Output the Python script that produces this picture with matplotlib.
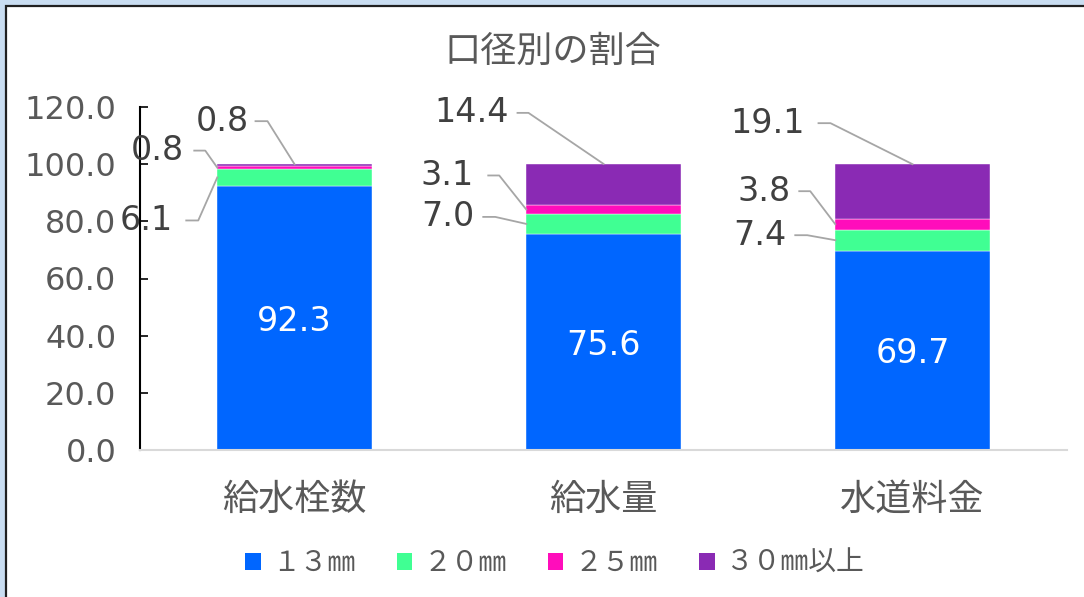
import matplotlib
matplotlib.use('Agg')
import matplotlib.pyplot as plt
from matplotlib.patches import Patch, Rectangle
from matplotlib.lines import Line2D
from matplotlib.transforms import IdentityTransform
import numpy as np

plt.rcParams['font.family'] = ['Noto Sans CJK JP', 'DejaVu Sans']

# データ
categories = ['給水栓数', '給水量', '水道料金']
series_names = ['１３㎜', '２０㎜', '２５㎜', '３０㎜以上']
values = [
    [92.3, 75.6, 69.7],   # 13mm
    [6.1, 7.0, 7.4],      # 20mm
    [0.8, 3.1, 3.8],      # 25mm
    [0.8, 14.4, 19.1],    # 30mm以上
]
colors = ['#0066FF', '#40FF93', '#FF0DBB', '#8A2AB4']
yticks = [0, 20, 40, 60, 80, 100, 120]

# ラベルの位置 (ピクセル): (文字右端, 線の始点, 折れ点, 線の高さ)
label_pos = {
    (1, 0): (-44, -31, -19, -43), (2, 0): (-33, -23, -12, 17), (3, 0): (-46, -39, -27, 43),
    (1, 1): (-52, -43, -31, 7),   (2, 1): (-53, -38, -27, 34), (3, 1): (-95, -86, -75, 51),
    (1, 2): (-49, -40, -28, 5),   (2, 2): (-45, -36, -25, 33), (3, 2): (-108, -94, -82, 41),
}

txt_gray = '#595959'
lbl_gray = '#404040'
num_font = ['DejaVu Sans']

fig = plt.figure(figsize=(10.84, 5.97), dpi=100)
fig.patch.set_facecolor('#C9DDF1')
fig.patches.append(Rectangle((6 / 1084, -0.05), 1.1, 1 - 6 / 597 + 0.05,
                             transform=fig.transFigure, facecolor='white',
                             edgecolor='#202020', lw=1.6, zorder=-5))

ax = fig.add_axes([140 / 1084, 1 - 450 / 597, 927 / 1084, 343 / 597])
ax.set_facecolor('none')

x = np.arange(len(categories))
bottom = np.zeros(len(categories))
for i, (name, vals) in enumerate(zip(series_names, values)):
    vals = np.array(vals)
    ax.bar(x, vals, 0.5, bottom=bottom, color=colors[i], label=name,
           edgecolor='white', linewidth=0.3, zorder=2)
    bottom = bottom + vals

ax.set_xlim(-0.5, 2.5)
ax.set_ylim(0, 120)
ax.set_yticks(yticks)
ax.set_yticklabels([f'{v:.1f}' for v in yticks], fontsize=23, color=txt_gray,
                   family=num_font)
ax.tick_params(axis='y', direction='in', length=6, width=1.2, color='black', pad=17)
ax.set_xticks(x)
ax.set_xticklabels(categories, fontsize=26, color=txt_gray)
ax.tick_params(axis='x', length=0, pad=23)
for s in ['top', 'right']:
    ax.spines[s].set_visible(False)
ax.spines['left'].set_color('black')
ax.spines['left'].set_linewidth(1.5)
ax.spines['bottom'].set_color('#D9D9D9')
ax.spines['bottom'].set_linewidth(1.5)

# 13mm のラベル (中央)
for j in range(len(categories)):
    ax.text(x[j], values[0][j] / 2, f'{values[0][j]:.1f}', color='white',
            fontsize=24, ha='center', va='center_baseline', family=num_font, zorder=3)

# その他のラベル (引き出し線)
fig.canvas.draw()
cum = np.cumsum(np.array(values), axis=0)
n = len(series_names)
for i in range(1, n):
    for j in range(len(categories)):
        v = values[i][j]
        if i == n - 1:
            px, py = x[j], cum[i][j]
        else:
            px, py = x[j] - 0.25, cum[i][j] - v / 2
        dx_txt, dx_start, dx_elbow, dy = label_pos[(i, j)]
        X, Y = ax.transData.transform((px, py))
        line = Line2D([X + dx_start, X + dx_elbow, X], [Y + dy, Y + dy, Y],
                      transform=IdentityTransform(), color='#A6A6A6', lw=1.3, zorder=4)
        fig.add_artist(line)
        fig.text(X + dx_txt, Y + dy, f'{v:.1f}', transform=IdentityTransform(),
                 fontsize=24, color=lbl_gray, ha='right', va='center', family=num_font)

fig.text(553 / 1084, 1 - 52 / 597, '口径別の割合', fontsize=26, color=txt_gray,
         ha='center', va='center')

handles = [Patch(facecolor=c, edgecolor='none') for c in colors]
fig.legend(handles, series_names, loc='center', ncol=4,
           bbox_to_anchor=(555 / 1084, 1 - 563 / 597), frameon=False,
           fontsize=20, labelcolor=txt_gray, handlelength=0.55, handleheight=0.55,
           handletextpad=0.4, columnspacing=1.5)

fig.savefig('out.png', dpi=100)
